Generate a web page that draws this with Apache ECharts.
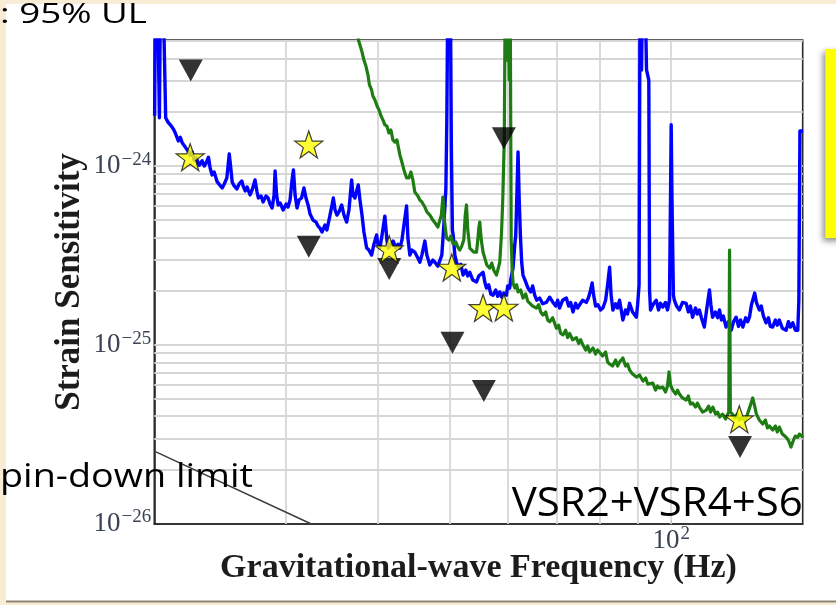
<!DOCTYPE html>
<html>
<head>
<meta charset="utf-8">
<script src="https://cdn.jsdelivr.net/npm/echarts@6/dist/echarts.min.js"></script>
<style>
html,body{margin:0;padding:0;background:#fff;}
#chart{width:836px;height:605px;}
</style>
</head>
<body>
<div id="chart"></div>
<script>
// ---------------- data ----------------
const blueFreq = [19.92,19.97,20.10,20.22,20.29,20.45,20.62,20.77,20.92,21.12,21.25,21.45,21.58,21.71,21.85,21.98,22.12,22.26,22.40,22.54,22.68,22.90,23.11,23.26,23.40,23.57,23.69,23.84,23.99,24.22,24.37,24.60,24.76,24.96,25.15,25.30,25.38,25.54,25.75,25.94,26.16,26.26,26.43,26.59,26.84,27.01,27.26,27.43,27.54,27.78,27.95,28.21,28.39,28.57,28.75,28.93,29.02,29.16,29.30,29.48,29.76,30.04,30.22,30.41,30.60,30.73,30.89,31.08,31.27,31.52,31.76,31.96,32.17,32.37,32.67,32.98,33.18,33.39,33.60,33.91,34.12,34.45,34.67,34.81,35.00,35.21,35.43,35.73,35.99,36.29,36.55,36.86,37.01,37.24,37.47,37.63,37.83,38.07,38.30,38.63,38.91,39.23,39.52,39.85,40.01,40.26,40.51,40.89,41.15,41.32,41.67,41.97,42.32,42.59,42.86,43.13,43.40,43.76,43.94,44.21,44.49,44.90,45.33,45.61,45.90,46.33,46.62,47.06,47.50,47.80,48.25,48.55,48.85,49.16,49.47,49.62,49.78,50.17,50.33,50.49,50.61,50.88,51.15,51.51,51.83,52.21,52.65,52.98,53.31,53.81,54.44,54.83,55.17,55.57,55.87,56.16,56.56,56.92,57.33,57.81,58.18,58.54,58.91,59.28,59.78,60.02,60.39,60.58,61.02,61.35,61.54,61.73,61.98,62.21,62.44,62.69,62.95,63.48,63.94,64.48,64.88,65.29,65.70,66.31,66.94,67.72,68.42,69.13,69.72,70.14,70.58,71.25,72.07,72.59,73.05,73.58,74.19,74.66,75.13,75.84,76.72,77.27,77.75,78.12,78.49,78.98,79.54,80.21,80.79,81.48,81.99,82.50,82.89,83.36,84.07,84.58,85.11,85.64,85.99,86.71,87.26,87.81,88.64,89.69,90.05,90.46,90.73,91.16,91.44,92.16,92.59,93.25,93.46,93.75,94.63,95.43,96.12,96.72,97.42,98.24,98.86,99.47,99.78,100.0,100.25,100.7,101.0,101.7,102.6,103.6,104.8,105.5,106.2,106.9,107.9,108.5,109.2,109.9,110.9,111.6,112.7,113.2,113.8,114.8,115.6,116.3,117.0,117.7,118.7,119.6,120.6,121.5,122.5,123.4,124.2,125.1,126.2,127.0,127.7,128.5,129.8,130.5,131.7,132.5,133.4,134.5,135.5,136.3,137.3,138.5,139.3,140.2,141.5,143.2,144.2,145.1,146.2,147.4,148.5,149.0,149.5,151.0];
const blueStrain = [1.91e-24,1e-23,1e-23,1.86e-24,1e-23,1e-23,1.86e-24,1.76e-24,1.70e-24,1.61e-24,1.53e-24,1.38e-24,1.45e-24,1.35e-24,1.30e-24,1.33e-24,1.21e-24,1.15e-24,1.20e-24,1.08e-24,1.11e-24,1.01e-24,1.07e-24,1.00e-24,1.04e-24,1.12e-24,9.76e-25,8.92e-25,9.27e-25,8.15e-25,8.36e-25,7.54e-25,7.94e-25,8.58e-25,1.17e-24,9.27e-25,8.15e-25,7.74e-25,7.45e-25,7.94e-25,8.25e-25,7.74e-25,7.26e-25,7.64e-25,6.89e-25,7.35e-25,8.36e-25,7.16e-25,6.63e-25,6.80e-25,6.30e-25,6.80e-25,6.63e-25,6.13e-25,5.83e-25,6.89e-25,9.39e-25,6.89e-25,6.06e-25,6.22e-25,5.68e-25,6.13e-25,5.90e-25,6.46e-25,8.36e-25,9.51e-25,6.89e-25,5.83e-25,6.46e-25,6.63e-25,7.54e-25,6.63e-25,6.06e-25,5.39e-25,4.99e-25,4.86e-25,4.62e-25,4.50e-25,4.28e-25,4.68e-25,4.39e-25,5.32e-25,6.06e-25,6.63e-25,5.68e-25,5.32e-25,5.54e-25,6.06e-25,5.32e-25,4.86e-25,5.68e-25,8.36e-25,6.89e-25,6.63e-25,7.35e-25,7.84e-25,6.46e-25,5.32e-25,4.28e-25,3.48e-25,3.39e-25,3.18e-25,3.66e-25,4.12e-25,3.66e-25,3.48e-25,4.06e-25,5.25e-25,3.86e-25,3.48e-25,3.66e-25,3.81e-25,3.48e-25,3.66e-25,3.48e-25,3.86e-25,4.68e-25,5.98e-25,3.96e-25,3.18e-25,3.39e-25,3.30e-25,3.06e-25,2.90e-25,3.18e-25,3.81e-25,3.18e-25,2.80e-25,2.98e-25,2.90e-25,2.76e-25,2.69e-25,3.18e-25,4.68e-25,7.35e-25,1.81e-24,1e-23,1e-23,1.23e-24,4.39e-25,4.12e-25,3.18e-25,2.90e-25,2.69e-25,2.83e-25,2.46e-25,2.62e-25,2.43e-25,2.55e-25,2.31e-25,2.25e-25,2.43e-25,2.49e-25,2.55e-25,2.25e-25,2.08e-25,2.17e-25,1.93e-25,1.90e-25,2.03e-25,1.87e-25,1.98e-25,1.85e-25,1.95e-25,1.90e-25,2.14e-25,2.08e-25,2.31e-25,2.69e-25,3.62e-25,4.12e-25,6.46e-25,1.20e-24,6.46e-25,4.12e-25,2.90e-25,2.46e-25,2.25e-25,2.08e-25,1.98e-25,2.14e-25,1.90e-25,1.78e-25,1.83e-25,1.70e-25,1.73e-25,1.85e-25,1.73e-25,1.65e-25,1.78e-25,1.61e-25,1.78e-25,1.83e-25,1.65e-25,1.73e-25,1.53e-25,1.71e-25,1.61e-25,1.68e-25,1.78e-25,1.73e-25,1.85e-25,2.03e-25,2.22e-25,1.90e-25,1.65e-25,1.68e-25,1.57e-25,1.61e-25,1.78e-25,2.17e-25,2.72e-25,1.90e-25,1.57e-25,1.70e-25,1.61e-25,1.78e-25,1.53e-25,1.38e-25,1.57e-25,1.49e-25,1.71e-25,1.53e-25,1.43e-25,1.68e-25,2.17e-25,1e-23,3.44e-24,1e-23,1e-23,3.44e-24,3.02e-24,2.03e-25,1.57e-25,1.70e-25,1.78e-25,1.57e-25,1.71e-25,1.63e-25,1.73e-25,1.57e-25,1.78e-25,6.46e-25,1.70e-24,6.46e-25,1.90e-25,1.78e-25,1.65e-25,1.57e-25,1.73e-25,1.71e-25,1.53e-25,1.65e-25,1.43e-25,1.61e-25,1.49e-25,1.57e-25,1.42e-25,1.26e-25,1.53e-25,2.03e-25,1.68e-25,1.43e-25,1.53e-25,1.42e-25,1.57e-25,1.38e-25,1.45e-25,1.26e-25,1.35e-25,1.21e-25,1.35e-25,1.43e-25,1.27e-25,1.38e-25,1.26e-25,1.42e-25,1.35e-25,1.43e-25,1.68e-25,1.95e-25,1.73e-25,1.57e-25,1.65e-25,1.45e-25,1.33e-25,1.42e-25,1.27e-25,1.26e-25,1.38e-25,1.29e-25,1.38e-25,1.24e-25,1.21e-25,1.35e-25,1.26e-25,1.33e-25,1.21e-25,1.21e-25,1.78e-25,1.57e-24,1.57e-24];

const greenFreq = [37.42,37.65,37.83,38.07,38.30,38.54,38.79,38.97,39.23,39.39,39.64,39.89,40.14,40.39,40.64,40.89,41.15,41.41,41.67,41.93,42.20,42.46,42.64,42.86,43.13,43.40,43.76,44.08,44.35,44.63,44.90,45.33,45.61,45.90,46.33,46.62,47.06,47.50,47.95,48.25,48.55,48.78,49.01,49.24,49.58,49.94,50.25,50.61,51.04,51.36,51.67,51.99,52.32,52.56,52.76,52.98,53.31,53.64,53.98,54.44,54.66,54.83,55.00,55.26,55.57,55.87,56.22,56.74,57.10,57.46,57.94,58.18,58.54,58.85,59.09,59.37,59.56,59.84,60.02,60.30,60.48,60.67,60.86,61.02,61.35,61.73,61.98,62.49,62.95,63.48,63.88,64.28,64.88,65.64,66.11,66.52,67.00,67.57,67.99,68.42,69.06,69.87,70.37,70.80,71.32,71.92,72.37,72.82,73.50,74.37,74.90,75.37,75.91,76.56,77.04,77.51,78.32,78.98,79.48,80.72,81.48,81.99,82.50,83.27,84.07,84.58,85.11,85.99,86.71,87.26,87.81,88.64,89.69,90.59,91.56,92.34,92.93,93.46,94.44,95.24,95.82,96.42,97.42,98.24,98.86,99.33,99.78,100.5,101.4,102.0,102.6,103.6,104.8,105.5,106.2,106.9,107.9,108.5,109.2,110.3,111.6,112.4,113.1,113.9,114.9,115.6,116.3,117.4,118.5,119.2,119.7,120.0,120.3,121.1,122.1,122.9,123.7,124.9,126.0,126.9,127.7,128.5,129.0,129.7,130.5,131.7,133.1,134.2,135.1,135.9,137.3,138.5,139.3,140.2,141.5,143.2,144.2,145.4,146.5,147.4,148.5,149.2,150.1,151.0];
const greenStrain = [1e-23,5.06e-24,4.75e-24,4.34e-24,3.91e-24,3.62e-24,3.22e-24,2.84e-24,2.66e-24,2.46e-24,2.34e-24,2.17e-24,2.06e-24,1.91e-24,1.81e-24,1.70e-24,1.67e-24,1.53e-24,1.59e-24,1.40e-24,1.36e-24,1.40e-24,1.28e-24,1.15e-24,1.05e-24,9.51e-25,8.58e-25,8.58e-25,9.27e-25,8.36e-25,7.16e-25,6.80e-25,6.46e-25,6.30e-25,5.90e-25,5.54e-25,5.32e-25,4.99e-25,4.74e-25,4.56e-25,4.50e-25,5.32e-25,6.71e-25,4.99e-25,3.96e-25,3.86e-25,4.06e-25,3.66e-25,3.76e-25,3.52e-25,3.39e-25,3.57e-25,3.86e-25,5.32e-25,6.06e-25,4.39e-25,3.48e-25,3.57e-25,3.30e-25,3.30e-25,3.86e-25,4.50e-25,4.86e-25,3.86e-25,3.30e-25,3.06e-25,2.80e-25,2.69e-25,2.87e-25,2.62e-25,2.46e-25,2.62e-25,2.90e-25,4.12e-25,6.46e-25,1.40e-24,1e-23,3.91e-24,1e-23,3.02e-24,1e-23,3.86e-25,2.62e-25,2.22e-25,2.08e-25,2.17e-25,1.98e-25,2.03e-25,1.83e-25,1.93e-25,1.76e-25,1.78e-25,1.65e-25,1.61e-25,1.68e-25,1.53e-25,1.47e-25,1.53e-25,1.38e-25,1.35e-25,1.42e-25,1.24e-25,1.29e-25,1.16e-25,1.14e-25,1.21e-25,1.10e-25,1.16e-25,1.07e-25,1.10e-25,1.02e-25,1.07e-25,1.00e-25,9.38e-26,9.88e-26,9.14e-26,9.62e-26,8.91e-26,9.38e-26,8.69e-26,9.14e-26,8.04e-26,7.83e-26,7.63e-26,8.25e-26,7.63e-26,8.04e-26,8.46e-26,7.63e-26,7.83e-26,7.25e-26,6.88e-26,6.62e-26,6.80e-26,6.29e-26,6.54e-26,6.05e-26,5.98e-26,6.13e-26,5.60e-26,5.90e-26,5.75e-26,5.82e-26,5.46e-26,5.90e-26,7.07e-26,5.98e-26,5.60e-26,5.32e-26,5.60e-26,5.32e-26,5.06e-26,4.93e-26,5.19e-26,4.68e-26,4.74e-26,4.50e-26,4.74e-26,4.50e-26,4.22e-26,4.33e-26,4.56e-26,4.22e-26,4.50e-26,4.11e-26,4.22e-26,3.96e-26,4.11e-26,3.86e-26,4.07e-26,4.22e-26,3.39e-25,4.22e-26,4.11e-26,3.91e-26,4.11e-26,3.81e-26,3.96e-26,3.76e-26,4.11e-26,4.44e-26,4.80e-26,5.06e-26,4.62e-26,4.11e-26,3.81e-26,3.62e-26,3.81e-26,3.44e-26,3.53e-26,3.35e-26,3.53e-26,3.27e-26,3.48e-26,3.18e-26,3.05e-26,2.94e-26,2.69e-26,2.94e-26,3.10e-26,3.05e-26,3.18e-26,3.10e-26,3.05e-26];

const starFreq = [22.26, 32.24, 41.45, 50.4, 55.57, 59.3, 123.7];
const starStrain = [1.12e-24, 1.32e-24, 3.43e-25, 2.71e-25, 1.61e-25, 1.62e-25, 3.85e-26];
const ulFreq = [22.3, 32.24, 41.45, 50.5, 55.7, 59.3, 124.0];
const ulStrain = [3.42e-24, 3.54e-25, 2.66e-25, 1.03e-25, 5.53e-26, 1.43e-24, 2.69e-26];
const spinFreq = [20, 32.5];
const spinStrain = [2.53e-26, 1.0e-26];

const xGridValues = [30, 40, 50, 60, 70, 80, 90, 100];
const yGridValues = [2e-26,3e-26,4e-26,5e-26,6e-26,7e-26,8e-26,9e-26,1e-25,2e-25,3e-25,4e-25,5e-25,6e-25,7e-25,8e-25,9e-25,1e-24,2e-24,3e-24,4e-24,5e-24];
const xRange = [19.9, 150.8];
const yRange = [1e-26, 5.06e-24];

const xTitle = 'Gravitational-wave Frequency (Hz)';
const yTitle = 'Strain Sensitivity';

// ---------------- build ----------------
// strain is given to the (log) axis in units of 1e-26 (ECharts log ticks round tiny numbers to 0)
const UNIT = 1e-26;
const sy = v => v / UNIT;
const pairs = (fx, hy) => fx.map((f, i) => [f, sy(hy[i])]);

const isPow10 = v => { const e = Math.log10(v); return Math.abs(e - Math.round(e)) < 1e-6; };
const lblColor = '#3a4356';
const richLbl = {
  b: {fontFamily: 'Liberation Serif', fontSize: 27, color: lblColor, lineHeight: 27},
  s: {fontFamily: 'Liberation Serif', fontSize: 19, color: lblColor, lineHeight: 19, padding: [0, 0, 13, 1]}
};

const star = 'path://M50,2 L61.8,36 L98,36 L68.8,57.6 L79.4,92 L50,70.6 L20.6,92 L31.2,57.6 L2,36 L38.2,36 Z';

const gridMarks = xGridValues.map(v => ({xAxis: v})).concat(yGridValues.map(v => ({yAxis: sy(v)})));

const cream = '#f8ecd5';

const chart = echarts.init(document.getElementById('chart'), null, {renderer: 'canvas'});
chart.setOption({
  animation: false,
  backgroundColor: '#ffffff',
  grid: {
    left: 154.3, right: 33.3, top: 40, bottom: 81,
    show: true, backgroundColor: '#ffffff', borderColor: '#2a2a2a', borderWidth: 1.6,
    containLabel: false, outerBoundsMode: 'none'
  },
  xAxis: {
    type: 'log', logBase: 10, min: xRange[0], max: xRange[1],
    name: xTitle, nameLocation: 'middle', nameGap: 27, nameMoveOverlap: false,
    nameTextStyle: {fontFamily: 'Liberation Serif', fontWeight: 'bold', fontSize: 34, color: '#1c1c1c'},
    axisLine: {show: true, lineStyle: {color: '#2a2a2a', width: 1.6}},
    axisTick: {show: true, inside: true, length: 4, lineStyle: {color: '#2a2a2a'}},
    splitLine: {show: false},
    axisLabel: {
      margin: 3, fontFamily: 'Liberation Serif', fontSize: 27, color: lblColor, rich: richLbl,
      formatter: v => isPow10(v) ? '{b|10}{s|' + Math.round(Math.log10(v)) + '}' : ''
    }
  },
  yAxis: {
    type: 'log', logBase: 10, min: sy(yRange[0]), max: sy(yRange[1]),
    name: yTitle, nameLocation: 'middle', nameGap: 67, nameMoveOverlap: false,
    nameTextStyle: {fontFamily: 'Liberation Serif', fontWeight: 'bold', fontSize: 35, color: '#1c1c1c'},
    axisLine: {show: true, lineStyle: {color: '#2a2a2a', width: 1.6}},
    axisTick: {show: true, inside: true, length: 4, lineStyle: {color: '#2a2a2a'}},
    splitLine: {show: false},
    axisLabel: {
      margin: 3, fontFamily: 'Liberation Serif', fontSize: 27, color: lblColor, rich: richLbl,
      formatter: v => isPow10(v) ? '{b|10}{s|\u2212' + (26 - Math.round(Math.log10(v))) + '}' : ''
    }
  },
  series: [
    {
      type: 'line', name: 'spin-down', data: pairs(spinFreq, spinStrain),
      symbol: 'none', z: 2, lineStyle: {color: '#3a3a3a', width: 1.4},
      markLine: {
        z: 1, silent: true, symbol: ['none', 'none'], animation: false,
        label: {show: false}, emphasis: {disabled: true},
        lineStyle: {type: 'solid', color: '#d6d6d6', width: 1.8},
        data: gridMarks
      }
    },
    {
      type: 'line', name: 'VSR', data: pairs(blueFreq, blueStrain),
      symbol: 'none', z: 3, lineStyle: {color: '#0000ff', width: 3.4, join: 'round'}
    },
    {
      type: 'line', name: 'S6', data: pairs(greenFreq, greenStrain),
      symbol: 'none', z: 4, lineStyle: {color: '#1e7d12', width: 3.2, join: 'round'}
    },
    {
      type: 'scatter', name: 'UL', data: pairs(ulFreq, ulStrain),
      symbol: 'triangle', symbolRotate: 180, symbolSize: [24, 22], z: 5,
      itemStyle: {color: '#000000'}
    },
    {
      type: 'scatter', name: 'stars', data: pairs(starFreq, starStrain),
      symbol: star, symbolSize: [28, 27], z: 6,
      itemStyle: {color: '#ffff00', borderColor: '#111111', borderWidth: 1.2}
    }
  ],
  graphic: {
    z: 100,
    elements: [
      {type: 'rect', z: 100, shape: {x: 0, y: 0, width: 836, height: 4}, style: {fill: cream}},
      {type: 'rect', z: 100, shape: {x: 0, y: 0, width: 6, height: 605}, style: {fill: cream}},
      {type: 'rect', z: 100, shape: {x: 0, y: 601, width: 836, height: 4}, style: {fill: cream}},
      {type: 'rect', z: 100, shape: {x: 6, y: 600.5, width: 830, height: 2}, style: {fill: '#8d8674'}},
      {type: 'rect', z: 100, shape: {x: 825.3, y: 49, width: 20, height: 189},
        style: {fill: '#ffff00', shadowBlur: 6, shadowColor: 'rgba(0,0,0,0.45)', shadowOffsetX: -2, shadowOffsetY: 3}},
      {type: 'text', z: 101, x: 0, y: 15.5, scaleX: 1.36,
        style: {text: ': 95% UL', fontFamily: 'Open Sans', fontSize: 27, fill: '#000', align: 'left', verticalAlign: 'middle'}},
      {type: 'text', z: 101, x: 0, y: 477.5, scaleX: 1.18,
        style: {text: 'pin-down limit', fontFamily: 'Open Sans', fontSize: 32, fill: '#000', align: 'left', verticalAlign: 'middle'}},
      {type: 'text', z: 101, x: 511.7, y: 504.5, scaleX: 1.05,
        style: {text: 'VSR2+VSR4+S6', fontFamily: 'Open Sans', fontSize: 40, fill: '#000', align: 'left', verticalAlign: 'middle'}}
    ]
  }
});
</script>
</body>
</html>
